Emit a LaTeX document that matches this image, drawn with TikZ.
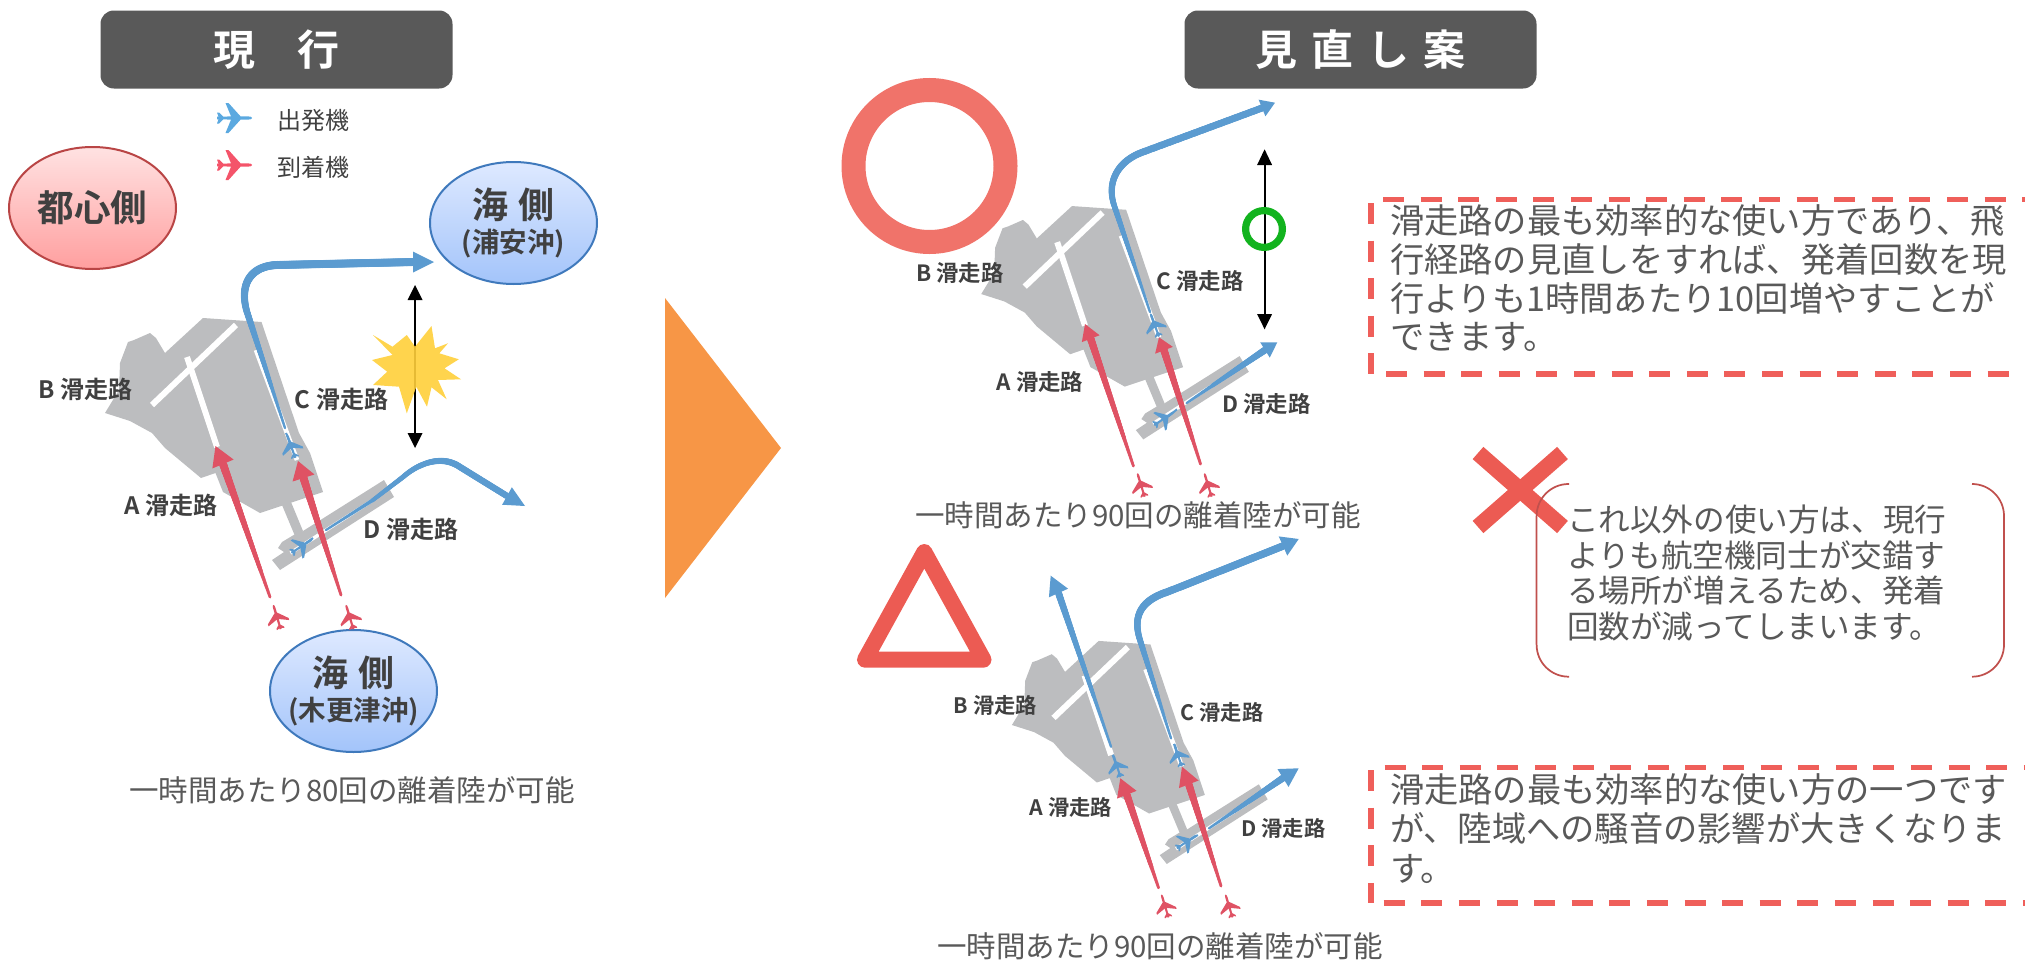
\documentclass[tikz,border=0pt]{standalone}
\usepackage{fontspec}
\usetikzlibrary{calc,shapes.geometric,decorations.markings}
\setmainfont[BoldFont={Noto Sans CJK JP Bold}]{Noto Sans CJK JP}
\definecolor{hdr}{HTML}{595959}
\definecolor{txt}{HTML}{404040}
\definecolor{capc}{HTML}{595959}
\definecolor{arpt}{HTML}{BCBDBF}
\definecolor{depb}{HTML}{5B9BD0}
\definecolor{arrr}{HTML}{DF5264}
\definecolor{legb}{HTML}{5BA9E0}
\definecolor{legr}{HTML}{F4546A}
\definecolor{crossred}{HTML}{EC5B53}
\definecolor{dashr}{HTML}{EF5F5A}
\definecolor{ringr}{HTML}{F0736A}
\definecolor{ringg}{HTML}{12B31E}
\definecolor{brk}{HTML}{C0504D}
\definecolor{starc}{HTML}{FFCF3A}
\definecolor{orng}{HTML}{F79646}
\definecolor{bluebd}{HTML}{3F79BC}
\definecolor{bluetop}{HTML}{DEE9FF}
\definecolor{bluebot}{HTML}{A3C4FA}
\definecolor{redbd}{HTML}{B94545}
\definecolor{redtop}{HTML}{FFE2E2}
\definecolor{redbot}{HTML}{FF9F9F}
\newcommand\fpx[1]{\fontsize{\fpeval{#1*0.75}pt}{\fpeval{#1*0.9}pt}\selectfont}
% tapered line: [fraction of the length over which it widens], colour, start width, end width (px), path
\newcommand\taperline[5][1]{%
  \path[decorate,decoration={markings,mark=between positions 0 and 1 step 0.5pt with {%
    \pgfmathsetmacro\rr{(#3+(#4-#3)*min(1,\pgfkeysvalueof{/pgf/decoration/mark info/distance from start}/(#1*\pgfdecoratedpathlength)))*0.375}%
    \fill[#2] (0,0) circle[radius=\rr pt];}}] #5;}
% arrow head: colour, base, tip, width px
\newcommand\arrowhd[4]{\fill[#1] (#3) -- ($(#2)!{#4*0.375pt}!90:(#3)$) -- ($(#2)!{#4*0.375pt}!-90:(#3)$) -- cycle;}
% plane: colour, centre, heading, scale
\newcommand\planeicon[4]{%
  \fill[#1,shift={(#2)},rotate=#3,scale=#4] (-17.5,-1.4) -- (13,-1.7) .. controls (16,-1.7) and (17.5,-1) .. (17.5,0) .. controls (17.5,1) and (16,1.7) .. (13,1.7) -- (-17.5,1.4) -- cycle
    (-9,-15) -- (-6,-15) -- (6,-1.7) -- (6,1.7) -- (-6,15) -- (-9,15) -- (-3.5,1.7) -- (-3.5,-1.7) -- cycle
    (-17.5,-5.5) -- (-15.5,-5.5) -- (-11,-1) -- (-11,1) -- (-15.5,5.5) -- (-17.5,5.5) -- (-15.5,0) -- cycle;}
% airport
\newcommand\airport{%
  \fill[arpt] (203,318) -- (261.5,322) -- (299,433) -- (310,453) -- (323,492) -- (260,513) -- (223,492) -- (215.5,473) -- (201,478) -- (165,448) -- (152,433) -- (130,421) -- (105,413) -- (119,390) -- (120,363) -- (128,342) -- (134,340) -- (150,333) -- (156,338) -- (165,353) -- cycle;
  \fill[arpt] (282,505) -- (291,502) -- (303,531) -- (295,536) -- cycle;
  \fill[arpt] (384,480) -- (394,497) -- (280,570) -- (272,560) -- (284,552) -- (278,548) -- (282,542) -- (297,533) -- (303,531) -- cycle;
  \draw[white,line width=4.5pt] (152,405) -- (236,325);
  \draw[white,line width=4.5pt] (187,357) -- (217,447);
  \draw[white,line width=3.5pt] (256,350) -- (297,460);
  \draw[white,line width=2.6pt] (290.5,553) -- (373,500);
}
\tikzset{
  every node/.style={inner sep=0pt,outer sep=0pt},
  rwlabel/.style={font=\bfseries,text=txt},
  titlebar/.style={fill=hdr,rounded corners=10pt,text=white,font=\bfseries},
  bubbleblue/.style={ellipse,draw=bluebd,line width=1.5pt,top color=bluetop,bottom color=bluebot,text=txt,font=\bfseries,align=center,minimum width=125.25pt,minimum height=91.5pt},
  bubblered/.style={ellipse,draw=redbd,line width=1.5pt,top color=redtop,bottom color=redbot,text=txt,font=\bfseries,minimum width=125.25pt,minimum height=91.5pt},
  dashbox/.style={draw=dashr,line width=4.2pt,dash pattern=on 15.8pt off 12.4pt},
  pagetext/.style={text=capc,align=left},
  blackarrow/.style={draw=black,line width=1.5pt},
}
\begin{document}
\begin{tikzpicture}[x=0.75pt,y=-0.75pt]
\useasboundingbox (0,0) rectangle (2025,960);
\clip (0,0) rectangle (2025,960);
% headers
\node[titlebar,minimum width=264pt,minimum height=58.5pt] (hleft) at (276.5,49.5) {\fpx{42}現　行};
\node[titlebar,minimum width=264pt,minimum height=58.5pt] (hright) at (1360.5,49.5) {\fpx{42}\spaceskip=.33em 見 直 し 案};
% legend
\planeicon{legb}{234.5,118}{0}{1}
\planeicon{legr}{234.5,165}{0}{1}
\node[text=txt] (lgdep) at (313,120) {\fpx{24}出発機};
\node[text=txt] (lgarr) at (313,167) {\fpx{24}到着機};
% bubbles
\node[bubblered] (city) at (92.5,208) {\fpx{36.6}都心側};
\node[bubbleblue] (seaN) at (513.5,223) {\fpx{36}\makebox[0pt]{海\hspace{.3em}側}\\[4pt]\fpx{27.5}\makebox[0pt]{(浦安沖)}};
\node[bubbleblue] (seaS) at (353.5,691) {\fpx{36}\makebox[0pt]{海\hspace{.3em}側}\\[4pt]\fpx{27.5}\makebox[0pt]{(木更津沖)}};
% ---- current plan
\begin{scope}\airport\end{scope}
\taperline[.5]{depb}{2.5}{8}{(285,428) -- (247,312) .. controls (239,285) and (250,266) .. (277,265) -- (415,262)}
\arrowhd{depb}{413,262}{434,262}{21}
\draw[depb,line width=1.5pt] (286,433) -- (290,442);
\planeicon{depb}{291,446}{110}{0.72}
\taperline[.7]{depb}{2.5}{6.5}{(326,530) -- (373,500) -- (403,477) .. controls (420,462) and (443,455) .. (460,467) -- (507,496)}
\arrowhd{depb}{507,496}{525,506}{20}
\draw[depb,line width=1.5pt] (306,543) -- (313,538);
\planeicon{depb}{302,546}{33}{0.72}
\taperline{arrr}{3}{8}{(270,597) -- (223,464)}
\arrowhd{arrr}{223,464}{215.5,446}{23}
\taperline{arrr}{3}{8}{(341,595) -- (303.5,478)}
\arrowhd{arrr}{303.5,478}{298,461}{23}
\planeicon{arrr}{277,617}{107}{0.72}
\planeicon{arrr}{349.7,617}{107}{0.72}
\coordinate (jamT) at (415,300);
\coordinate (jamB) at (415,433);
\draw[blackarrow] (jamT) -- (jamB);
\arrowhd{black}{415,300}{415,285}{15}
\arrowhd{black}{415,433}{415,448}{15}
\fill[fill=starc,opacity=.9] (373,335) -- (392.5,346.7) -- (406.8,335) -- (415,346.7) -- (431.5,326) -- (435,348.3) -- (448,343.3) -- (439.3,353.3) -- (458.8,359.3) -- (444.5,368.3) -- (461,379.3) -- (438,380) -- (446.7,399.3) -- (431.5,387.3) -- (427,406.7) -- (416.3,386.7) -- (406.8,413.3) -- (399,386.7) -- (373,385) -- (387.2,371.7) -- (372,360) -- (392.5,355) -- cycle;
\node[rwlabel] (b1) at (85.5,389) {\fpx{24}B 滑走路};
\node[rwlabel] (c1) at (341.5,399) {\fpx{24}C 滑走路};
\node[rwlabel] (a1) at (171,505) {\fpx{24}A 滑走路};
\node[rwlabel] (d1) at (411,529) {\fpx{24}D 滑走路};
\node[text=capc] (cap1) at (352,790) {\fpx{29.5}一時間あたり80回の離着陸が可能};
% arrow
\fill[fill=orng] (665,298) -- (781,448) -- (665,598) -- cycle;
% ---- proposal 1
\draw[ringr,line width=18pt] (929.5,166) circle[radius=57pt];
\begin{scope}[shift={(884,-88.4)},scale=.926]\airport\end{scope}
\taperline[.5]{depb}{2.5}{7}{(1150,312) -- (1114,205) .. controls (1106,180) and (1120,160) .. (1143,152) -- (1262,108)}
\arrowhd{depb}{1262,108}{1275,102.7}{18}
\draw[depb,line width=1.5pt] (1151,315) -- (1153.5,322);
\planeicon{depb}{1154.7,325}{110}{0.7}
\taperline{depb}{2.5}{7}{(1186.7,403) -- (1265,350)}
\arrowhd{depb}{1265,350}{1277.3,342.3}{18}
\draw[depb,line width=1.5pt] (1168,416.7) -- (1177,409.3);
\planeicon{depb}{1164.4,418.3}{34}{0.7}
\taperline{arrr}{3}{7.5}{(1133.4,466) -- (1090.7,338.7)}
\arrowhd{arrr}{1090.7,338.7}{1085,324}{19}
\taperline{arrr}{3}{7.5}{(1200.5,464) -- (1164,350.3)}
\arrowhd{arrr}{1164,350.3}{1159,337.3}{19}
\planeicon{arrr}{1141,485}{107}{0.7}
\planeicon{arrr}{1208,485}{107}{0.7}
\coordinate (gapT) at (1264.6,165);
\coordinate (gapB) at (1264.6,314);
\draw[blackarrow] (gapT) -- (gapB);
\arrowhd{black}{1264.6,165}{1264.6,149.3}{15}
\arrowhd{black}{1264.6,314}{1264.6,329.3}{15}
\draw[ringg,line width=5.4pt] (1264,229) circle[radius=13.8pt];
\node[rwlabel] (b2) at (960,272.7) {\fpx{22.4}B 滑走路};
\node[rwlabel] (c2) at (1200,281) {\fpx{22.4}C 滑走路};
\node[rwlabel] (a2) at (1040,381.7) {\fpx{22.4}A 滑走路};
\node[rwlabel] (d2) at (1266.5,403.7) {\fpx{22.4}D 滑走路};
\node[text=capc] (cap2) at (1138,515) {\fpx{29.5}一時間あたり90回の離着陸が可能};
% ---- proposal 2
\draw[crossred,line width=12pt,line join=round] (924.3,552) -- (983.5,659.7) -- (865,659.7) -- cycle;
\begin{scope}[shift={(919,359.5)},scale=.885]\airport\end{scope}
\taperline{depb}{2.5}{7}{(1111,746.7) -- (1058.5,593)}
\arrowhd{depb}{1058.5,593}{1050.7,575.7}{21}
\draw[depb,line width=1.5pt] (1112.7,755) -- (1115.5,763.3);
\planeicon{depb}{1116.8,765.7}{108}{0.68}
\taperline[.5]{depb}{2.5}{7.5}{(1171,738.3) -- (1140,640) .. controls (1132,615) and (1142,600) .. (1168,591.7) -- (1283,546)}
\arrowhd{depb}{1283,546}{1298.7,539}{21}
\draw[depb,line width=1.5pt] (1174,744) -- (1176.5,752);
\planeicon{depb}{1178,755}{108}{0.68}
\taperline{depb}{2.5}{7}{(1209,828.3) -- (1283,778)}
\arrowhd{depb}{1283,778}{1298.7,768.3}{21}
\draw[depb,line width=1.5pt] (1190,840) -- (1197.8,835);
\planeicon{depb}{1186.7,841.7}{34}{0.68}
\taperline{arrr}{3}{7.5}{(1158.5,887.7) -- (1126.8,794.7)}
\arrowhd{arrr}{1126.8,794.7}{1120.3,778.3}{21}
\taperline{arrr}{3}{7.5}{(1221,886) -- (1188.8,784.3)}
\arrowhd{arrr}{1188.8,784.3}{1182,766.7}{21}
\planeicon{arrr}{1165,906}{107}{0.68}
\planeicon{arrr}{1229,906}{107}{0.68}
\node[rwlabel] (b3) at (995.5,705) {\fpx{21.3}B 滑走路};
\node[rwlabel] (c3) at (1222,712.7) {\fpx{21.3}C 滑走路};
\node[rwlabel] (a3) at (1071,807.3) {\fpx{21.3}A 滑走路};
\node[rwlabel] (d3) at (1283.5,828.3) {\fpx{21.3}D 滑走路};
\node[text=capc] (cap3) at (1160,946.7) {\fpx{29.5}一時間あたり90回の離着陸が可能};
% ---- text panels
\draw[dashbox] (1371,203) -- (1371,374);
\draw[dashbox] (1383,199.3) -- (2040,199.3);
\draw[dashbox] (1386,373.7) -- (2040,373.7);
\node[pagetext,anchor=north west,font={\fontsize{25.7pt}{29pt}\selectfont}] (note1) at (1390,205) {滑走路の最も効率的な使い方であり、飛\\行経路の見直しをすれば、発着回数を現\\行よりも1時間あたり10回増やすことが\\できます。};
\draw[crossred,line width=12.2pt] (1478,453) -- (1562.5,527);
\draw[crossred,line width=12.2pt] (1562.5,453) -- (1478,527);
\draw[brk,line width=1.3pt,rounded corners=24pt] (1569,484) -- (1536.6,484) -- (1536.6,676.7) -- (1569,676.7);
\draw[brk,line width=1.3pt,rounded corners=24pt] (1972,484) -- (2004,484) -- (2004,676.7) -- (1972,676.7);
\node[pagetext,anchor=north west,font={\fontsize{23.7pt}{26.6pt}\selectfont}] (note2) at (1567,505) {これ以外の使い方は、現行\\よりも航空機同士が交錯す\\る場所が増えるため、発着\\回数が減ってしまいます。};
\draw[dashbox] (1371,770) -- (1371,903);
\draw[dashbox] (1384.6,767.3) -- (2040,767.3);
\draw[dashbox] (1383.7,903) -- (2040,903);
\node[pagetext,anchor=north west,font={\fontsize{25.7pt}{29.3pt}\selectfont}] (note3) at (1390,774) {滑走路の最も効率的な使い方の一つです\\が、陸域への騒音の影響が大きくなりま\\す。};
\end{tikzpicture}
\end{document}
